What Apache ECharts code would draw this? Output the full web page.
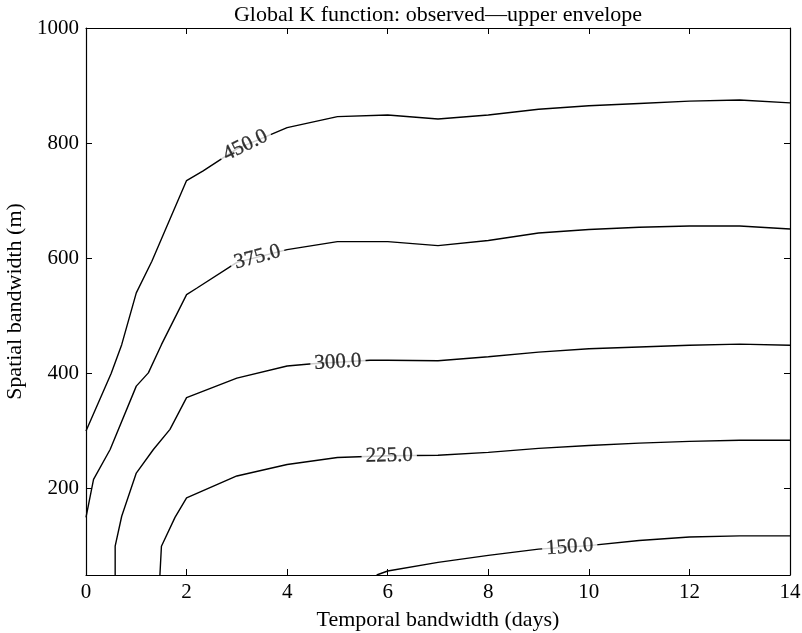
<!DOCTYPE html>
<html>
<head>
<meta charset="utf-8">
<script src="https://cdn.jsdelivr.net/npm/echarts@6/dist/echarts.min.js"></script>
<style>
  html, body { margin: 0; padding: 0; background: #fff; }
  #chart { width: 802px; height: 633px; }
</style>
</head>
<body>
<div id="chart"></div>
<script>
// Contour levels of observed minus upper-envelope K function
const levels = [450, 375, 300, 225, 150];

// Contour paths: [temporal bandwidth (days), spatial bandwidth (m)]
const c450 = [[0, 300], [0.5, 400], [0.71, 450], [1, 540], [1.31, 595], [1.57, 648], [2, 735], [2.33, 752],
  [3, 790], [4, 827], [5, 846], [6, 849], [7, 842], [8, 849], [9, 859], [10, 865], [11, 869], [12, 873], [13, 875], [14, 870]];
const c375 = [[0, 150], [0.15, 216], [0.48, 268], [1, 378], [1.24, 401], [1.5, 450], [2, 537], [2.2, 548],
  [3, 593], [4, 615], [5, 629], [6, 629], [7, 622], [8, 631], [9, 644], [10, 650], [11, 654], [12, 656], [13, 656], [14, 651]];
const c300 = [[0.58, 50], [0.58, 100], [0.71, 152], [1, 227], [1.34, 268], [1.67, 303], [2, 358], [3, 392],
  [4, 413], [4.5, 417], [5.65, 423], [6, 423], [7, 422], [8, 429], [9, 437], [10, 443], [11, 446], [12, 449], [13, 451], [14, 449]];
const c225 = [[1.47, 50], [1.5, 100], [1.77, 150], [2, 184], [3, 222], [4, 242], [5, 254], [6, 257],
  [7, 258], [8, 263], [9, 270], [10, 275], [11, 279], [12, 282], [13, 284], [14, 284]];
const c150 = [[5.78, 50], [6, 57], [7, 72], [8, 84], [9, 95], [10, 101], [11, 110], [12, 116], [13, 118], [14, 118]];

const contours = [c450, c375, c300, c225, c150];

// Where along each contour its inline level label sits (days)
const labelX = [3.17, 3.41, 5.01, 6.03, 9.62];

// Axis ticks
const xTicks = [0, 2, 4, 6, 8, 10, 12, 14];
const yTicks = [200, 400, 600, 800, 1000];

const FONT = 'Liberation Serif';
const chart = echarts.init(document.getElementById('chart'), null, { renderer: 'canvas' });

const tickStyle = { inside: true, length: 6, lineStyle: { color: '#000', width: 1 } };
const lineAxis = { show: true, onZero: false, lineStyle: { color: '#000', width: 1.2 } };
const tickText = { fontFamily: FONT, fontSize: 21, color: '#000' };
const nameText = { fontFamily: FONT, fontSize: 22, color: '#000' };

function yAt(path, x) {
  for (let i = 0; i < path.length - 1; i++) {
    const a = path[i], b = path[i + 1];
    if (x >= a[0] && x <= b[0] && b[0] > a[0]) {
      return a[1] + (b[1] - a[1]) * (x - a[0]) / (b[0] - a[0]);
    }
  }
  return path[path.length - 1][1];
}

const option = {
  animation: false,
  backgroundColor: '#fff',
  grid: { left: 86, right: 12, top: 28, bottom: 58, containLabel: false, outerBoundsMode: 'none' },
  xAxis: [
    {
      type: 'value', min: xTicks[0], max: xTicks[xTicks.length - 1], interval: 2, position: 'bottom',
      axisLine: lineAxis, axisTick: tickStyle, splitLine: { show: false },
      axisLabel: Object.assign({ margin: 7, showMinLabel: true, showMaxLabel: true, formatter: (v) => String(v) }, tickText),
      name: 'Temporal bandwidth (days)', nameLocation: 'middle', nameGap: 34,
      nameTextStyle: nameText
    },
    {
      type: 'value', min: xTicks[0], max: xTicks[xTicks.length - 1], interval: 2, position: 'top',
      axisLine: lineAxis, axisTick: tickStyle, splitLine: { show: false },
      axisLabel: { show: false },
      name: 'Global K function: observed\u2014upper envelope', nameLocation: 'middle', nameGap: 2,
      nameTextStyle: nameText
    }
  ],
  yAxis: [
    {
      type: 'value', min: 50, max: 1000, position: 'left',
      axisLine: lineAxis, splitLine: { show: false },
      axisTick: Object.assign({ customValues: yTicks }, tickStyle),
      axisLabel: Object.assign({ customValues: yTicks, margin: 7, formatter: (v) => String(v) }, tickText),
      name: 'Spatial bandwidth (m)', nameLocation: 'middle', nameGap: 51, nameRotate: 90,
      nameTextStyle: nameText
    },
    {
      type: 'value', min: 50, max: 1000, position: 'right',
      axisLine: lineAxis, splitLine: { show: false },
      axisTick: Object.assign({ customValues: yTicks }, tickStyle),
      axisLabel: { show: false }
    }
  ],
  series: contours.map((path, i) => ({
    type: 'line',
    name: String(levels[i]),
    data: path,
    showSymbol: false,
    symbol: 'none',
    z: 2,
    lineStyle: { color: '#000', width: 1.4 }
  }))
};

chart.setOption(option);

// Inline labels: rotated to follow the contour, white box breaks the line underneath
const labelData = levels.map((lv, i) => {
  const path = contours[i];
  const x = labelX[i];
  const y = yAt(path, x);
  const p1 = chart.convertToPixel({ gridIndex: 0 }, [x - 0.45, yAt(path, x - 0.45)]);
  const p2 = chart.convertToPixel({ gridIndex: 0 }, [x + 0.45, yAt(path, x + 0.45)]);
  const angle = Math.atan2(-(p2[1] - p1[1]), p2[0] - p1[0]) * 180 / Math.PI;
  return {
    value: [x, y],
    label: { rotate: angle }
  };
});

chart.setOption({
  series: option.series.concat([{
    type: 'scatter',
    symbolSize: 0,
    z: 5,
    data: labelData,
    label: {
      show: true,
      position: 'inside',
      align: 'center',
      verticalAlign: 'middle',
      formatter: (p) => levels[p.dataIndex].toFixed(1),
      fontFamily: FONT,
      fontSize: 21,
      color: '#000',
      textBorderColor: '#000',
      textBorderWidth: 0.3,
      backgroundColor: '#fff',
      padding: [0, 4]
    }
  }])
});
</script>
</body>
</html>
